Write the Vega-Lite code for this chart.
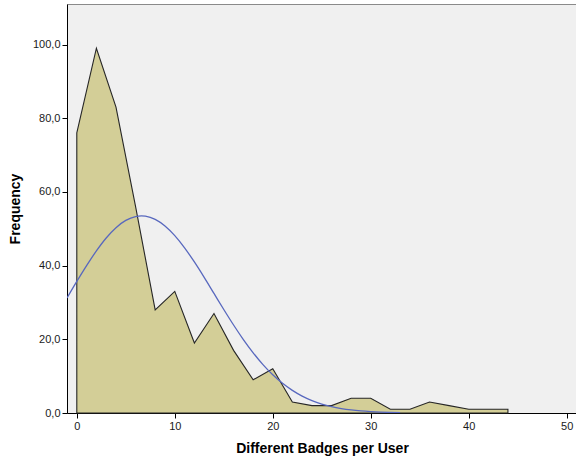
{
  "$schema": "https://vega.github.io/schema/vega-lite/v6.json",
  "autosize": {"type": "none"},
  "padding": {"left": 67, "top": 4, "right": 0, "bottom": 47},
  "width": 510,
  "height": 409,
  "background": "white",
  "config": {
    "view": {"fill": "#F0F0F0", "stroke": "#8a8a8a", "strokeWidth": 1},
    "font": "Liberation Sans",
    "axis": {
      "grid": false,
      "domainColor": "#000000",
      "domainWidth": 1,
      "tickColor": "#000000",
      "tickSize": 5,
      "labelFont": "Liberation Sans",
      "labelFontSize": 11,
      "labelColor": "#1a1a1a",
      "titleFont": "Liberation Sans",
      "titleFontSize": 14,
      "titleFontWeight": "bold",
      "titleColor": "#000000",
      "zindex": 1
    }
  },
  "datasets": {
    "freq": [
      {"badges": 0, "frequency": 76},
      {"badges": 2, "frequency": 99},
      {"badges": 4, "frequency": 83},
      {"badges": 6, "frequency": 56},
      {"badges": 8, "frequency": 28},
      {"badges": 10, "frequency": 33},
      {"badges": 12, "frequency": 19},
      {"badges": 14, "frequency": 27},
      {"badges": 16, "frequency": 17},
      {"badges": 18, "frequency": 9},
      {"badges": 20, "frequency": 12},
      {"badges": 22, "frequency": 3},
      {"badges": 24, "frequency": 2},
      {"badges": 26, "frequency": 2},
      {"badges": 28, "frequency": 4},
      {"badges": 30, "frequency": 4},
      {"badges": 32, "frequency": 1},
      {"badges": 34, "frequency": 1},
      {"badges": 36, "frequency": 3},
      {"badges": 38, "frequency": 2},
      {"badges": 40, "frequency": 1},
      {"badges": 42, "frequency": 1},
      {"badges": 44, "frequency": 1}
    ],
    "normal": [
      {"badges": -1, "density": 31.2},
      {"badges": 0, "density": 35.7},
      {"badges": 1, "density": 40.0},
      {"badges": 2, "density": 44.0},
      {"badges": 3, "density": 47.5},
      {"badges": 4, "density": 50.3},
      {"badges": 5, "density": 52.26},
      {"badges": 6, "density": 53.32},
      {"badges": 6.6, "density": 53.5},
      {"badges": 7, "density": 53.42},
      {"badges": 8, "density": 52.55},
      {"badges": 9, "density": 50.76},
      {"badges": 10, "density": 48.14},
      {"badges": 11, "density": 44.83},
      {"badges": 12, "density": 40.99},
      {"badges": 13, "density": 36.81},
      {"badges": 14, "density": 32.45},
      {"badges": 15, "density": 28.09},
      {"badges": 16, "density": 23.88},
      {"badges": 17, "density": 19.93},
      {"badges": 18, "density": 16.33},
      {"badges": 19, "density": 13.14},
      {"badges": 20, "density": 10.38},
      {"badges": 21, "density": 8.06},
      {"badges": 22, "density": 6.14},
      {"badges": 23, "density": 4.59},
      {"badges": 24, "density": 3.37},
      {"badges": 25, "density": 2.43},
      {"badges": 26, "density": 1.72},
      {"badges": 27, "density": 1.20},
      {"badges": 28, "density": 0.82},
      {"badges": 29, "density": 0.55},
      {"badges": 30, "density": 0.36},
      {"badges": 31, "density": 0.23},
      {"badges": 32, "density": 0.15},
      {"badges": 33, "density": 0.09}
    ]
  },
  "layer": [
    {
      "data": {"name": "freq"},
      "mark": {"type": "area", "fill": "#D3CE97", "fillOpacity": 1, "stroke": "#262626", "strokeWidth": 1.1, "interpolate": "linear"},
      "encoding": {
        "x": {
          "field": "badges", "type": "quantitative",
          "scale": {"domain": [-1, 51.05], "nice": false, "zero": false},
          "axis": {
            "title": "Different Badges per User",
            "values": [0, 10, 20, 30, 40, 50],
            "labelPadding": 2,
            "titlePadding": 10
          }
        },
        "y": {
          "field": "frequency", "type": "quantitative",
          "scale": {"domain": [0, 111], "nice": false},
          "axis": {
            "title": "Frequency",
            "values": [0, 20, 40, 60, 80, 100],
            "labelExpr": "replace(format(datum.value, '.1f'), '.', ',')",
            "labelPadding": 2,
            "titlePadding": 10
          }
        }
      }
    },
    {
      "data": {"name": "normal"},
      "mark": {"type": "line", "color": "#5868BE", "strokeWidth": 1.3, "interpolate": "monotone", "clip": true},
      "encoding": {
        "x": {"field": "badges", "type": "quantitative"},
        "y": {"field": "density", "type": "quantitative"}
      }
    }
  ]
}
